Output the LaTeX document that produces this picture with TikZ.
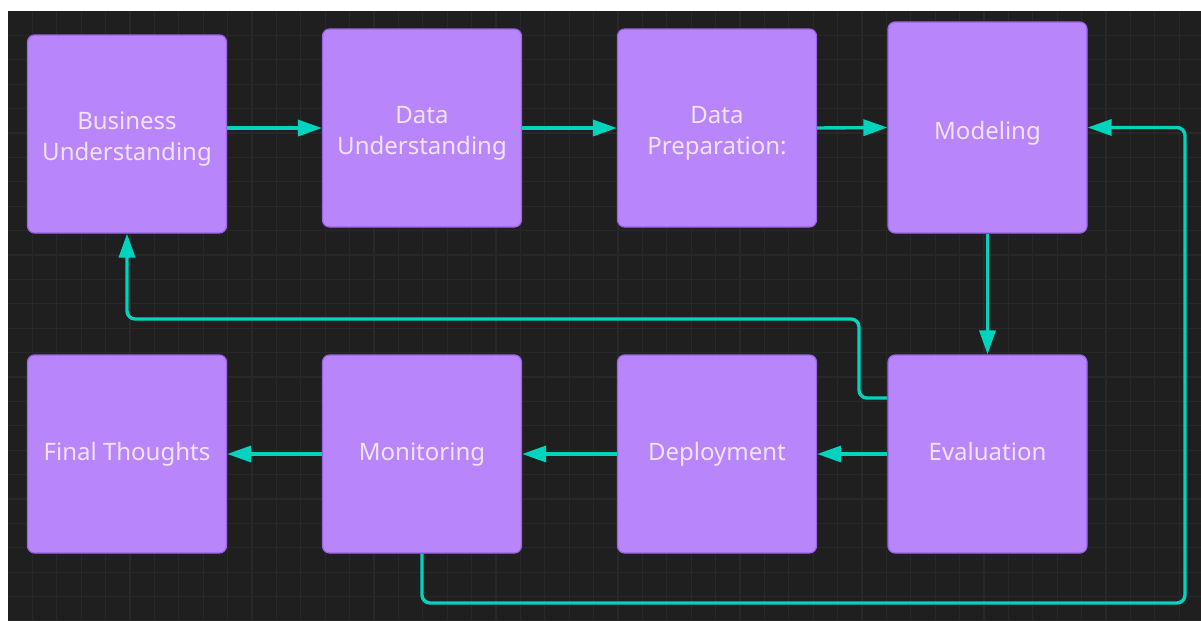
\documentclass[tikz,border=0pt]{standalone}
\usepackage{fontspec}
\setmainfont{Noto Sans}
\usetikzlibrary{arrows.meta}
\definecolor{bgdark}{HTML}{1F1F1F}
\definecolor{gridline}{HTML}{282828}
\definecolor{boxfill}{HTML}{B886FA}
\definecolor{boxedge}{HTML}{9A62E6}
\definecolor{boxtext}{HTML}{F0E3FC}
\definecolor{flowteal}{HTML}{00D3BE}
\newcommand{\stagetext}[1]{\begin{tabular}[b]{@{}c@{}}#1\end{tabular}}
\begin{document}
\begin{tikzpicture}[x=0.5pt,y=-0.5pt,
    stage/.style={draw=boxedge, line width=0.6pt, fill=boxfill, rounded corners=3.5pt,
        minimum width=99.5pt, minimum height=99pt, text=boxtext,
        font=\fontsize{12}{15.5}\selectfont},
    lowtext/.style={execute at begin node={\rule{0pt}{#1}}},
    flow/.style={color=flowteal, line width=1.7pt, -{Triangle[length=12pt,width=8pt]}}]
                    \useasboundingbox (0,0) rectangle (1201,621);
                    \fill [white] (0,0) rectangle (1201,621);
                    \fill [bgdark] (8,11) rectangle (1201,621);
                    \foreach \i in {1,...,48}
                        \draw [gridline, line width=0.6pt] (8+24.4*\i,11) -- (8+24.4*\i,621);
                    \foreach \j in {1,...,25}
                        \draw [gridline, line width=0.6pt] (8,11+24.4*\j) -- (1201,11+24.4*\j);

                    \node (bu) at (127,134) [stage, lowtext=31.3pt] {\stagetext{Business\\Understanding}};
                    \node (du) at (422,128) [stage, lowtext=31.3pt] {\stagetext{Data\\Understanding}};
                    \node (dp) at (717,128) [stage, lowtext=31.3pt] {\stagetext{Data\\Preparation:}};
                    \node (mo) at (987.5,127.5) [stage, lowtext=16.75pt, minimum height=105.5pt] {\stagetext{Modeling}};

                    \node (ev) at (987.5,454) [stage] {\stagetext{Evaluation}};
                    \node (de) at (717,454) [stage] {\stagetext{Deployment}};
                    \node (mn) at (422,454) [stage] {\stagetext{Monitoring}};
                    \node (ft) at (127,454) [stage] {\stagetext{Final Thoughts}};

                    \node (back) [coordinate] at (859,319) {};
                    \node (loop) [coordinate] at (1185,603) {};

                    \path [flow]
                        ([yshift=3pt]bu.east) edge ([yshift=3pt]bu.east -| du.west)
                        (du.east) edge (dp.west)
                        (dp.east) edge (mo.west)
                        (mo.south) edge (ev.north)
                        (ev.west) edge (de.east)
                        (de.west) edge (mn.east)
                        (mn.west) edge (ft.east)
                    ;

                    \draw [flow, rounded corners=4pt] ([yshift=28pt]ev.west) -| (back) -| (bu.south);
                    \draw [flow, rounded corners=4pt] (mn.south) |- (loop) |- (mo.east);
                \end{tikzpicture}
\end{document}
